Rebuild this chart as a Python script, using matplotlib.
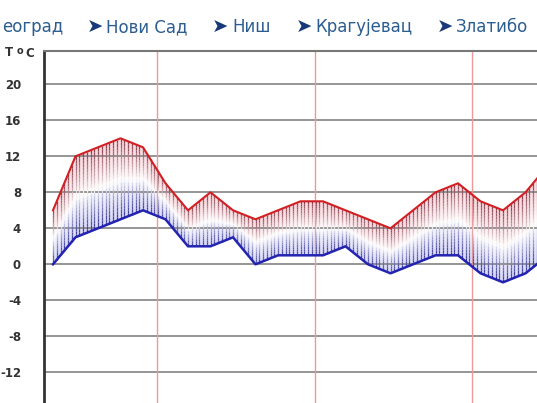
import numpy as np
import matplotlib
matplotlib.use("Agg")
import matplotlib.pyplot as plt
from matplotlib.collections import LineCollection

# forecast values, one per time step
t_max = [6, 12, 13, 14, 13, 9, 6, 8, 6, 5, 6, 7, 7, 6, 5, 4, 6, 8, 9, 7, 6, 8, 11]
t_min = [0, 3, 4, 5, 6, 5, 2, 2, 3, 0, 1, 1, 1, 2, 0, -1, 0, 1, 1, -1, -2, -1, 1]
day_marks = [4.63, 11.63, 18.62]
y_ticks = [-12, -8, -4, 0, 4, 8, 12, 16, 20]
cities = ["еоград", "Нови Сад", "Ниш", "Крагујевац", "Златибо"]

RED = np.array([0.82, 0.12, 0.14])
BLUE = np.array([0.14, 0.14, 0.70])
RED_DARK = np.array([0.52, 0.24, 0.30])
BLUE_DARK = np.array([0.18, 0.18, 0.55])
RED_LIGHT = np.array([0.98, 0.84, 0.86])
BLUE_LIGHT = np.array([0.84, 0.84, 0.98])
WHITE = np.array([1.0, 1.0, 1.0])


def band_colour(t, top, bottom):
    # t = 0 at the min line, 1 at the max line, white in the middle
    if t >= 0.5:
        s = (t - 0.5) * 2
        return WHITE + (top - WHITE) * s ** 0.8
    s = (0.5 - t) * 2
    return WHITE + (bottom - WHITE) * s ** 0.8


def band_segments(xs, hi, lo, top, bottom, n=24):
    segs, cols = [], []
    for x in xs:
        y1 = np.interp(x, idx, hi)
        y0 = np.interp(x, idx, lo)
        ys = np.linspace(y0, y1, n + 1)
        for k in range(n):
            segs.append([(x, ys[k]), (x, ys[k + 1])])
            cols.append(band_colour((k + 0.5) / n, top, bottom))
    return segs, cols


idx = np.arange(len(t_max))

fig = plt.figure(figsize=(5.37, 4.03), dpi=100)
ax = fig.add_axes([44 / 537, 0, 1 - 44 / 537, (403 - 51) / 403])
ax.set_xlim(-0.4, 21.51)
ax.set_ylim(-15.41, 23.7)

# light background fill
bg_x = np.arange(0, idx[-1] + 1e-6, 1 / 30)
segs, cols = band_segments(bg_x, t_max, t_min, RED_LIGHT, BLUE_LIGHT)
ax.add_collection(LineCollection(segs, colors=cols, linewidths=0.9, zorder=1))

for y in y_ticks:
    ax.axhline(y, color="#8c8c8c", lw=1.3, zorder=2)
for d in day_marks:
    ax.axvline(d, color="#eb9a9a", lw=1.0, zorder=2)

# darker vertical stripes
st_x = np.arange(0, idx[-1] + 1e-6, 1 / 6)
segs, cols = band_segments(st_x, t_max, t_min, RED_DARK, BLUE_DARK)
ax.add_collection(LineCollection(segs, colors=cols, linewidths=0.9, zorder=3))

ax.plot(idx, t_max, color=RED, lw=1.5, zorder=4)
ax.plot(idx, t_min, color=BLUE, lw=1.8, zorder=4)

ax.set_yticks(y_ticks)
ax.set_yticklabels([str(v) for v in y_ticks], fontsize=8.5, fontweight="bold", color="#333333")
ax.tick_params(axis="y", length=0, pad=16.5)
ax.set_xticks([])
ax.spines["left"].set_color("#333333")
ax.spines["left"].set_linewidth(2)
ax.spines["top"].set_color("#777777")
ax.spines["top"].set_linewidth(1.5)
ax.spines["right"].set_visible(False)
ax.spines["bottom"].set_visible(False)

# unit label
fig.text(9 / 537, 1 - 53 / 403, "T", fontsize=8.5, fontweight="bold", color="#333333", ha="center", va="center")
fig.text(20.3 / 537, 1 - 50.5 / 403, "o", fontsize=7, fontweight="bold", color="#333333", ha="center", va="center")
fig.text(29.5 / 537, 1 - 53.5 / 403, "C", fontsize=8.5, fontweight="bold", color="#333333", ha="center", va="center")

# city links across the top
link_x = [2, 106, 232, 315, 456]
arrow_x = [None, 87, 212, 296, 437]
for name, lx, axx in zip(cities, link_x, arrow_x):
    fig.text(lx / 537, 1 - 27 / 403, name, fontsize=12, color="#2c5d90", ha="left", va="center")
    if axx is not None:
        fig.text(axx / 537, 1 - 27 / 403, "➤", fontsize=14, color="#17397a", ha="left", va="center")

fig.savefig("out.png", dpi=100)
